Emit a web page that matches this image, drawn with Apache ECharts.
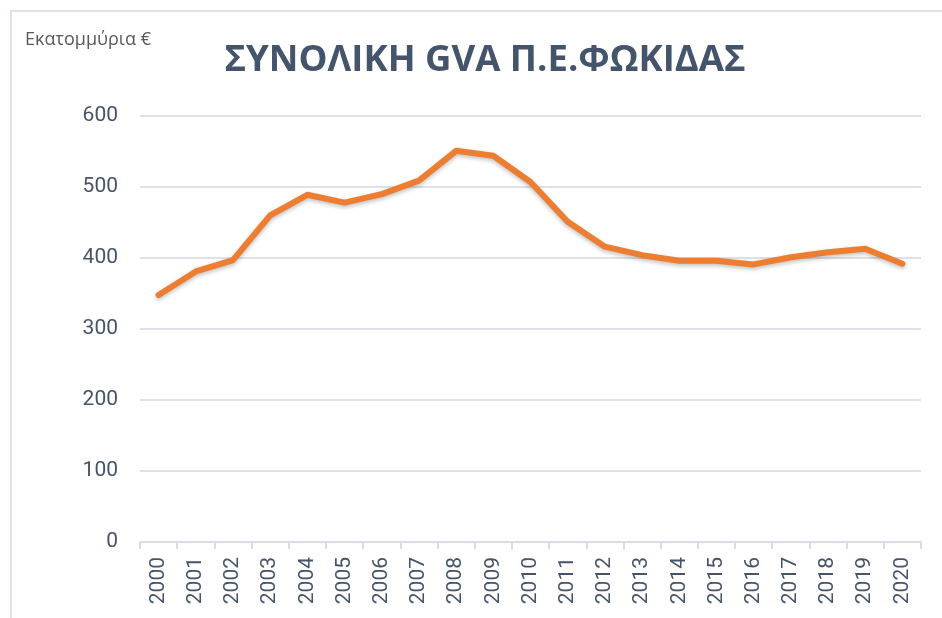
<!DOCTYPE html>
<html>
<head>
<meta charset="utf-8">
<script src="https://cdn.jsdelivr.net/npm/echarts@6/dist/echarts.min.js"></script>
<style>
  html, body { margin: 0; padding: 0; background: #fff; }
  #chart { width: 942px; height: 618px; }
</style>
</head>
<body>
<div id="chart"></div>
<script>
const years = ['2000', '2001', '2002', '2003', '2004', '2005', '2006', '2007', '2008', '2009', '2010',
  '2011', '2012', '2013', '2014', '2015', '2016', '2017', '2018', '2019', '2020']
// συνολική GVA, εκατομμύρια €
const gva = [348, 381, 397, 460, 489, 478, 490, 509, 551, 544, 507,
  451, 416, 404, 396, 396, 391, 401, 408, 413, 392]
const yTicks = [0, 100, 200, 300, 400, 500, 600]

const chart = echarts.init(document.getElementById('chart'))
const textColor = '#44546A'

const option = {
  animation: false,
  backgroundColor: '#fff',
  graphic: [
    {
      type: 'rect',
      shape: { x: 11, y: 11, width: 960, height: 640 },
      style: { fill: 'none', stroke: '#DDE2EA', lineWidth: 2 },
      silent: true
    },
    {
      type: 'text',
      left: 25,
      top: 31,
      style: { text: 'Εκατομμύρια €', fill: '#595959', font: '18px "Open Sans", sans-serif' }
    }
  ],
  title: {
    text: 'ΣΥΝΟΛΙΚΗ GVA Π.Ε.ΦΩΚΙΔΑΣ',
    left: 480,
    textAlign: 'center',
    top: 37,
    textStyle: {
      color: textColor,
      fontFamily: '"Open Sans", sans-serif',
      fontWeight: 'bold',
      fontSize: 36.5
    }
  },
  grid: {
    left: 140,
    right: 21,
    top: 116,
    bottom: 76,
    containLabel: false
  },
  xAxis: {
    type: 'category',
    data: years,
    boundaryGap: true,
    axisLine: { lineStyle: { color: '#D9DEE6', width: 2 } },
    axisTick: { show: true, length: 7, lineStyle: { color: '#D9DEE6', width: 2 } },
    axisLabel: {
      interval: 0,
      rotate: 90,
      color: textColor,
      fontFamily: 'Roboto, sans-serif',
      fontSize: 21,
      margin: 15
    }
  },
  yAxis: {
    type: 'value',
    min: yTicks[0],
    max: yTicks[yTicks.length - 1],
    interval: 100,
    axisLine: { show: false },
    axisTick: { show: false },
    splitLine: { lineStyle: { color: '#DDE2EA', width: 2 } },
    axisLabel: {
      color: textColor,
      fontFamily: 'Roboto, sans-serif',
      fontSize: 21,
      margin: 22
    }
  },
  series: [
    {
      type: 'line',
      data: gva,
      symbol: 'none',
      lineStyle: {
        color: '#ED7D31',
        width: 6,
        cap: 'round',
        join: 'round',
        shadowColor: 'rgba(0,0,0,0.25)',
        shadowBlur: 4,
        shadowOffsetY: 2
      }
    }
  ]
}

chart.setOption(option)
</script>
</body>
</html>
